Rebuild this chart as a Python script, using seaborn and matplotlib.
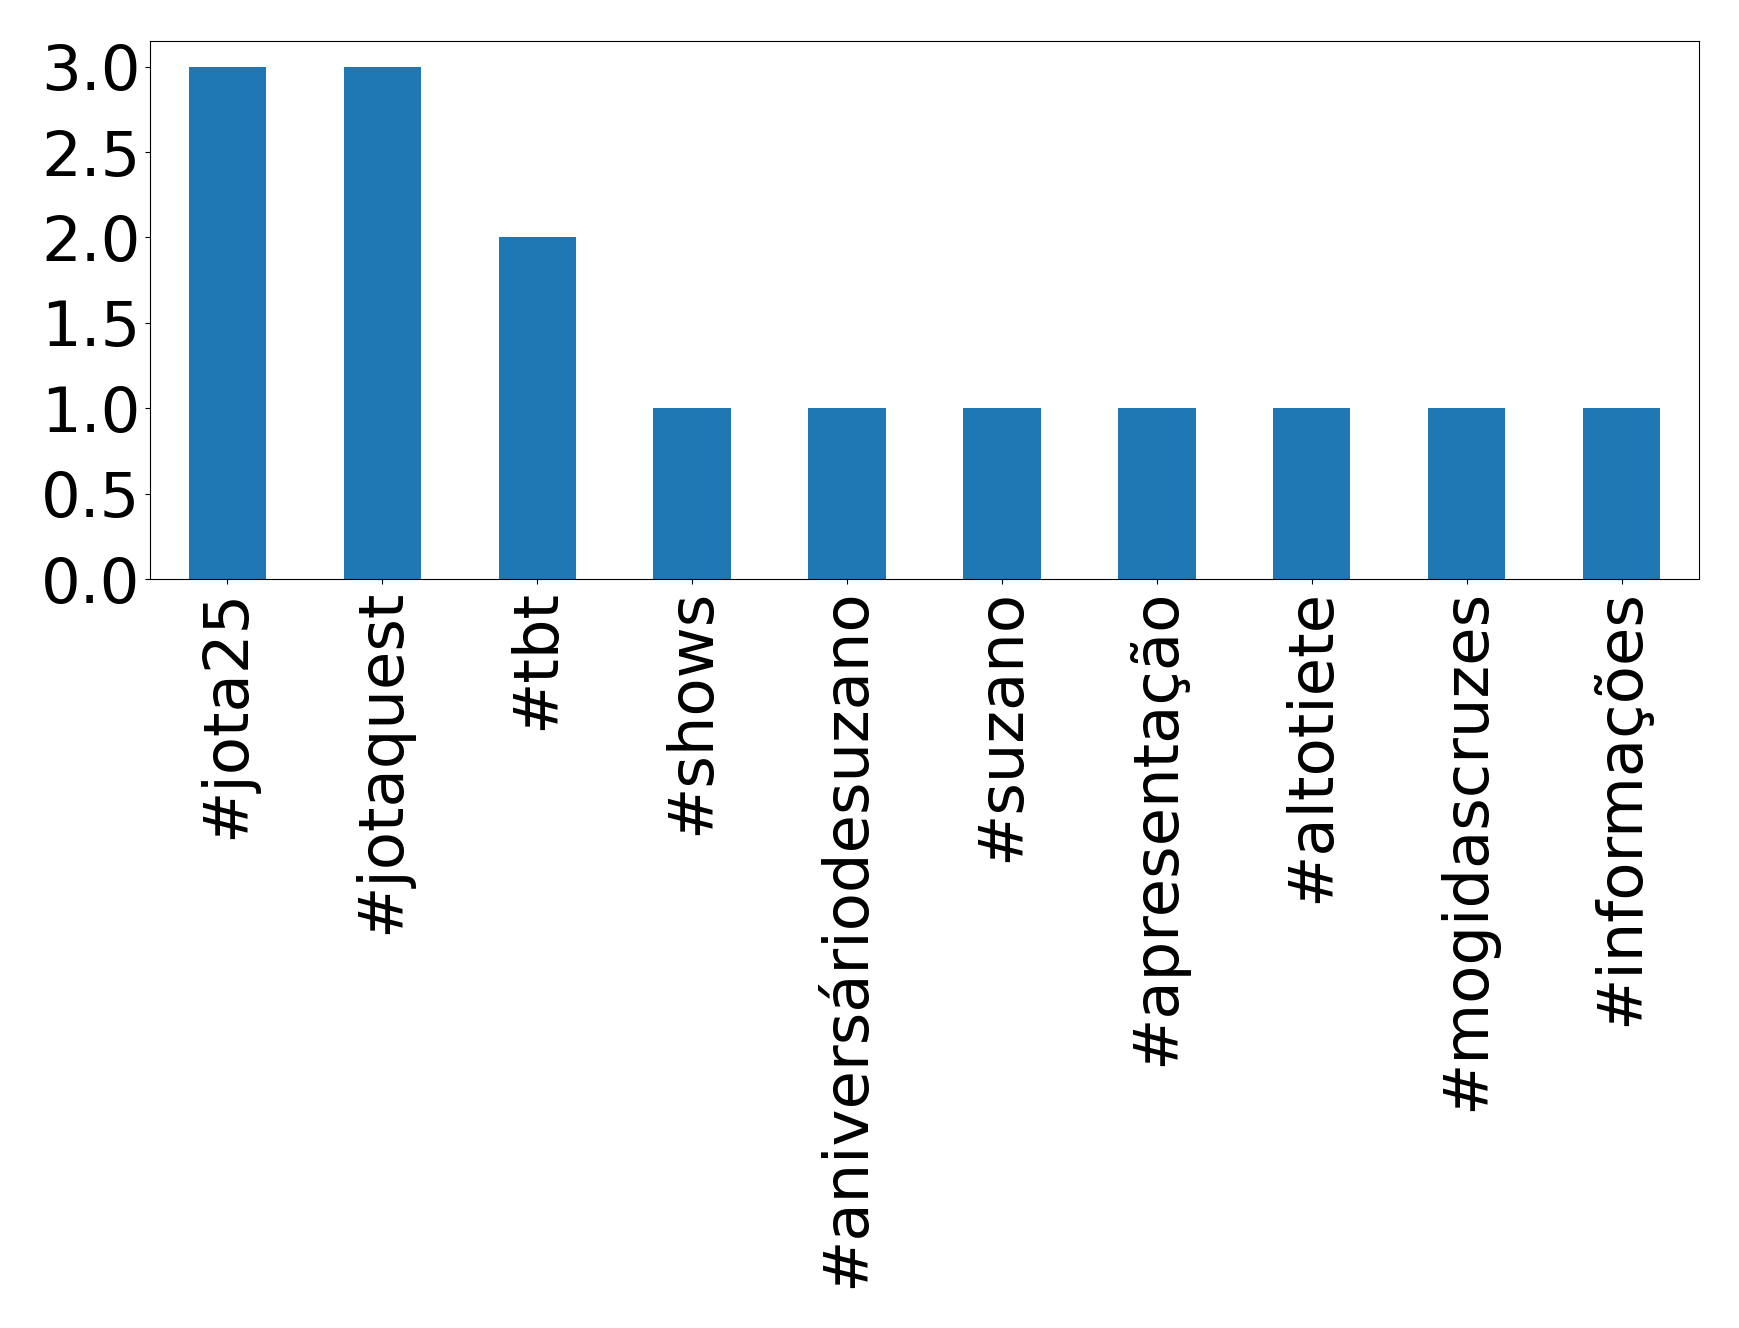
import matplotlib
matplotlib.use('AGG')
import matplotlib.pyplot as plt
import seaborn as sns
import pandas as pd

hashtags = ['#jota25', '#jotaquest', '#tbt', '#shows', '#aniversáriodesuzano',
            '#suzano', '#apresentação', '#altotiete', '#mogidascruzes', '#informações']
counts = [3, 3, 2, 1, 1, 1, 1, 1, 1, 1]
yticks = [0.0, 0.5, 1.0, 1.5, 2.0, 2.5, 3.0]

df = pd.DataFrame({'hashtag': hashtags, 'count': counts})

fig = plt.figure(figsize=(17.39, 13.28), dpi=100)
ax = fig.add_axes([150 / 1739, 1 - 579 / 1328, (1699 - 150) / 1739, (579 - 41) / 1328])
sns.barplot(x='hashtag', y='count', data=df, color='#1f77b4', saturation=1, width=0.5, ax=ax)
ax.set_xlim(-0.5, len(hashtags) - 0.5)
ax.set_ylim(0, 3.15)
ax.set_yticks(yticks)
ax.set_yticklabels([f'{t:.1f}' for t in yticks])
ax.set_xlabel('')
ax.set_ylabel('')
ax.tick_params(axis='both', labelsize=45)
ax.tick_params(axis='x', labelrotation=90)
plt.savefig('out.png', dpi=100)
